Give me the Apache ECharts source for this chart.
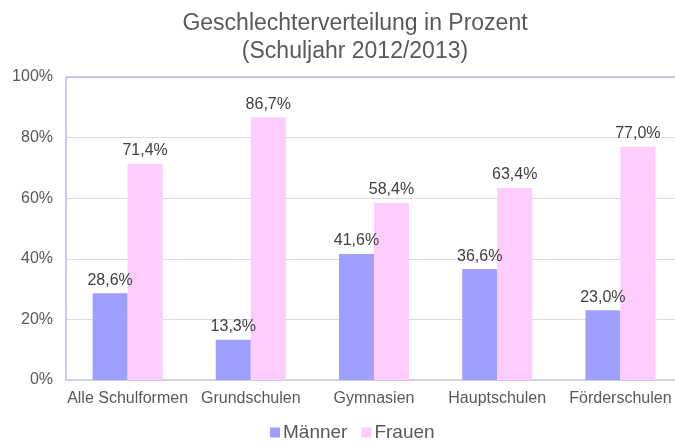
<!DOCTYPE html>
<html>
<head>
<meta charset="utf-8">
<script src="https://cdn.jsdelivr.net/npm/echarts@6/dist/echarts.min.js"></script>
<style>
html, body { margin: 0; padding: 0; background: #fff; }
#chart { width: 675px; height: 444px; }
</style>
</head>
<body>
<div id="chart"></div>
<script>
// Schulformen und Anteile (%)
const schulformen = ['Alle Schulformen', 'Grundschulen', 'Gymnasien', 'Hauptschulen', 'Förderschulen'];
const maenner = [28.6, 13.3, 41.6, 36.6, 23.0];
const frauen = [71.4, 86.7, 58.4, 63.4, 77.0];

const fmt = p => p.value.toFixed(1).replace('.', ',') + '%';

const myChart = echarts.init(document.getElementById('chart'));
myChart.setOption({
    textStyle: { fontFamily: 'Liberation Sans, Arial, sans-serif' },
    title: {
        text: 'Geschlechterverteilung in Prozent\n(Schuljahr 2012/2013)',
        left: 350,
        top: 5,
        textAlign: 'center',
        textStyle: {
            fontSize: 23,
            fontWeight: 'normal',
            color: '#595959',
            lineHeight: 28
        }
    },
    legend: {
        top: 418,
        left: 265,
        itemWidth: 10,
        itemHeight: 10,
        itemGap: 14,
        icon: 'rect',
        textStyle: { fontSize: 19, color: '#595959', padding: [0, 0, 0, -2] }
    },
    grid: {
        left: 66,
        right: -7,
        top: 77,
        bottom: 64,
        outerBoundsMode: 'none'
    },
    xAxis: {
        type: 'category',
        data: schulformen,
        axisLine: { lineStyle: { color: '#c8c8e8', width: 1.5 } },
        axisTick: { show: false },
        axisLabel: { fontSize: 16, color: '#595959', margin: 11, interval: 0 }
    },
    yAxis: {
        type: 'value',
        min: 0,
        max: 100,
        interval: 20,
        axisLine: { show: true, lineStyle: { color: '#b8b8f8', width: 1.5 } },
        axisTick: { show: false },
        axisLabel: { fontSize: 16, color: '#595959', margin: 13, formatter: '{value}%' },
        splitLine: { lineStyle: { color: '#dcdcdc' } }
    },
    series: [
        {
            name: 'Männer',
            type: 'bar',
            data: maenner,
            barWidth: 35,
            barGap: '0%',
            itemStyle: { color: '#9f9fff' },
            label: { show: true, position: 'top', distance: 5, fontSize: 16, color: '#404040', formatter: fmt }
        },
        {
            name: 'Frauen',
            type: 'bar',
            data: frauen,
            barWidth: 35,
            barGap: '0%',
            itemStyle: { color: '#ffccff' },
            label: { show: true, position: 'top', distance: 5, fontSize: 16, color: '#404040', formatter: fmt }
        },
        {
            type: 'line',
            data: [100, 100, 100, 100, 100],
            silent: true,
            symbol: 'none',
            lineStyle: { opacity: 0 },
            markLine: {
                silent: true,
                symbol: 'none',
                label: { show: false },
                lineStyle: { color: '#b8b8f8', type: 'solid', width: 1.5 },
                data: [{ yAxis: 100 }]
            }
        }
    ]
});
</script>
</body>
</html>
